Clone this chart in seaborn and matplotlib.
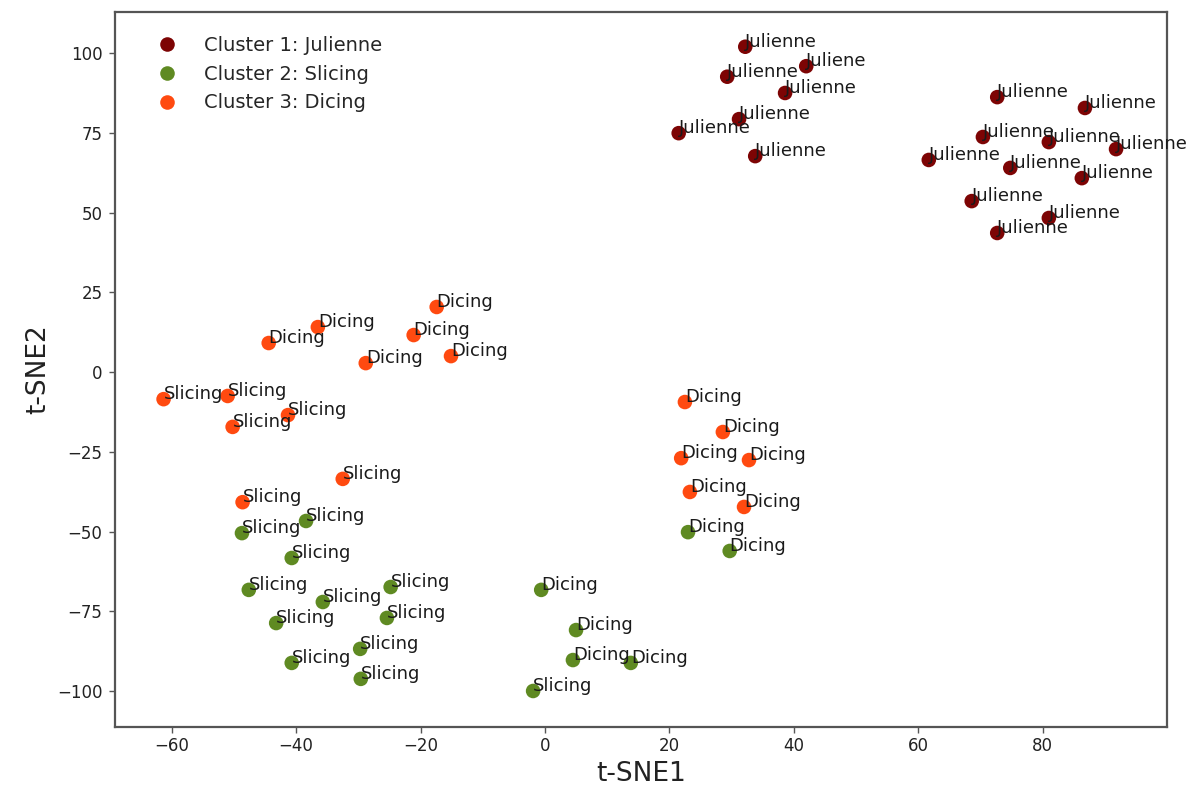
import matplotlib
matplotlib.use("Agg")
import matplotlib.pyplot as plt
import seaborn as sns
import pandas as pd

# Cluster 1: Julienne (all labelled "Julienne")
jul_x = [32.2, 29.3, 42.0, 38.6, 31.2, 21.5, 33.8, 72.7, 86.8, 70.4, 81.0, 91.8, 61.7, 74.8, 86.3, 68.6, 81.0, 72.7]
jul_y = [102.0, 92.6, 95.9, 87.5, 79.3, 74.9, 67.7, 86.2, 82.8, 73.7, 72.1, 69.9, 66.5, 64.0, 60.8, 53.6, 48.3, 43.6]
jul_lab = ["Julienne", "Julienne", "Juliene", "Julienne", "Julienne", "Julienne", "Julienne", "Julienne", "Julienne",
           "Julienne", "Julienne", "Julienne", "Julienne", "Julienne", "Julienne", "Julienne", "Julienne", "Julienne"]

# Cluster 3: Dicing
dic_x = [-17.4, -36.5, -44.4, -21.1, -28.8, -15.1, -61.3, -51.0, -50.2, -41.3, -32.5, -48.6, 22.5, 28.6, 21.9, 32.8, 23.3, 32.0]
dic_y = [20.4, 14.1, 9.1, 11.6, 2.8, 5.0, -8.5, -7.5, -17.2, -13.5, -33.5, -40.8, -9.4, -18.8, -27.0, -27.6, -37.6, -42.3]
dic_lab = ["Dicing", "Dicing", "Dicing", "Dicing", "Dicing", "Dicing", "Slicing", "Slicing", "Slicing", "Slicing", "Slicing",
           "Slicing", "Dicing", "Dicing", "Dicing", "Dicing", "Dicing", "Dicing"]

# Cluster 2: Slicing
sli_x = [-48.7, -38.4, -40.7, -47.6, -35.7, -24.8, -43.2, -25.4, -29.7, -40.7, -29.6, 23.0, 29.7, -0.6, 5.0, 4.5, 13.8, -1.9]
sli_y = [-50.5, -46.7, -58.3, -68.3, -72.1, -67.4, -78.7, -77.1, -86.8, -91.2, -96.2, -50.2, -56.1, -68.3, -80.9, -90.3, -91.2, -100.0]
sli_lab = ["Slicing", "Slicing", "Slicing", "Slicing", "Slicing", "Slicing", "Slicing", "Slicing", "Slicing", "Slicing",
           "Slicing", "Dicing", "Dicing", "Dicing", "Dicing", "Dicing", "Dicing", "Slicing"]

cluster_names = ["Cluster 1: Julienne", "Cluster 2: Slicing", "Cluster 3: Dicing"]
cluster_colors = ["#7d0404", "#5f8a22", "#ff4a10"]

df = pd.concat([
    pd.DataFrame({"x": jul_x, "y": jul_y, "label": jul_lab, "cluster": cluster_names[0]}),
    pd.DataFrame({"x": sli_x, "y": sli_y, "label": sli_lab, "cluster": cluster_names[1]}),
    pd.DataFrame({"x": dic_x, "y": dic_y, "label": dic_lab, "cluster": cluster_names[2]}),
], ignore_index=True)

sns.set_style("white")
plt.rcParams['font.family'] = ['DejaVu Sans']

fig = plt.figure(figsize=(11.91, 7.93), dpi=100)
ax = fig.add_axes([0.0966, 0.0832, 0.8833, 0.9017])

sns.scatterplot(data=df, x="x", y="y", hue="cluster", hue_order=cluster_names,
                palette=dict(zip(cluster_names, cluster_colors)), s=110, linewidth=0, ax=ax)

for _, r in df.iterrows():
    ax.annotate(r["label"], (r["x"], r["y"]), fontsize=13, color="#1a1a1a")

ax.set_xlim(-69.1, 100.0)
ax.set_ylim(-111.3, 112.9)
ax.set_xticks([-60, -40, -20, 0, 20, 40, 60, 80])
ax.set_yticks([-100, -75, -50, -25, 0, 25, 50, 75, 100])
ax.tick_params(axis="both", which="major", labelsize=12, length=4, width=1, color="#555555",
               bottom=True, left=True, labelcolor="#222222")
ax.tick_params(axis="y", pad=5)
ax.set_xlabel("t-SNE1", fontsize=19, color="#222222")
ax.set_ylabel("t-SNE2", fontsize=19, color="#222222")
for sp in ax.spines.values():
    sp.set_color("#555555")
    sp.set_linewidth(1.6)

leg = ax.legend(loc="upper left", bbox_to_anchor=(0.014, 0.991), frameon=False, fontsize=14,
                handletextpad=0.9, labelspacing=0.5, markerscale=1.0)

fig.savefig("out.png", dpi=100)
